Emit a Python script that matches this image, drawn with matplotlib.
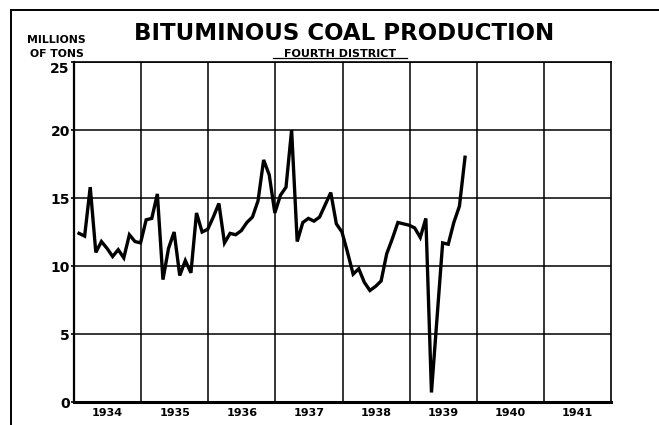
import matplotlib
matplotlib.use('Agg')
import matplotlib.pyplot as plt
from matplotlib.lines import Line2D

# monthly output, millions of tons (Jan 1934 - Oct 1939)
prod_1934 = [12.4, 12.2, 15.8, 11.0, 11.8, 11.3, 10.7, 11.2, 10.6, 12.3, 11.8, 11.7]
prod_1935 = [13.4, 13.5, 15.3, 9.0, 11.3, 12.5, 9.3, 10.4, 9.5, 13.9, 12.5, 12.7]
prod_1936 = [13.6, 14.6, 11.7, 12.4, 12.3, 12.6, 13.2, 13.6, 14.8, 17.8, 16.7, 13.9]
prod_1937 = [15.2, 15.8, 20.0, 11.8, 13.2, 13.5, 13.3, 13.6, 14.5, 15.4, 13.1, 12.5]
prod_1938 = [11.0, 9.4, 9.8, 8.8, 8.2, 8.5, 8.9, 10.9, 12.0, 13.2, 13.1, 13.0]
prod_1939 = [12.8, 12.1, 13.5, 0.7, 6.2, 11.7, 11.6, 13.2, 14.4, 18.0]

years = [1934, 1935, 1936, 1937, 1938, 1939, 1940, 1941]
year_labels = ['1934', '1935', '1936', '1937', '1938', '1939', '1940', '1941']
y_ticks = [0, 5, 10, 15, 20, 25]

series = [prod_1934, prod_1935, prod_1936, prod_1937, prod_1938, prod_1939]
x, y = [], []
for yr, vals in zip(years, series):
    for m, v in enumerate(vals):
        x.append(yr + (m + 0.9) / 12)
        y.append(v)

fig = plt.figure(figsize=(6.59, 4.25), dpi=100)
ax = fig.add_axes([0.1123, 0.0541, 0.8149, 0.80])

ax.plot(x, y, color='black', lw=2.4, solid_joinstyle='miter')

ax.set_xlim(1934, 1942)
ax.set_ylim(0, 25)
ax.set_yticks(y_ticks)
ax.set_yticklabels([str(t) for t in y_ticks], fontsize=10, fontweight='bold')
ax.get_yticklabels()[-1].set_va('top')  # "25" sits below the top edge
ax.set_xticks(years[1:])
ax.set_xticklabels([])
ax.set_xticks([yr + 0.5 for yr in years], minor=True)
ax.set_xticklabels(year_labels, minor=True, fontsize=8, fontweight='bold')
ax.tick_params(axis='x', which='both', length=0, pad=4)
ax.tick_params(axis='y', length=2, width=1.2, pad=1)
ax.grid(True, which='major', color='black', lw=1.1)

for side, lw in [('bottom', 2.2), ('left', 1.6), ('top', 1.2), ('right', 1.2)]:
    ax.spines[side].set_linewidth(lw)
    ax.spines[side].set_color('black')

fig.text(0.5228, 0.9059, 'BITUMINOUS COAL PRODUCTION', ha='center', va='baseline',
         fontsize=16.5, fontweight='bold')
fig.text(0.0857, 0.8988, 'MILLIONS', ha='center', va='baseline', fontsize=7.8, fontweight='bold')
fig.text(0.0865, 0.8659, 'OF TONS', ha='center', va='baseline', fontsize=7.8, fontweight='bold')
fig.text(0.516, 0.8659, 'FOURTH DISTRICT', ha='center', va='baseline', fontsize=8, fontweight='bold')

fig.lines.append(Line2D([273 / 659, 407 / 659], [0.8624, 0.8624], transform=fig.transFigure,
                        color='black', lw=0.9))
# page border
fig.lines.append(Line2D([0.0167, 1.0], [0.9765, 0.9765], transform=fig.transFigure, color='black', lw=1.4))
fig.lines.append(Line2D([0.0167, 0.0167], [0.0, 0.9765], transform=fig.transFigure, color='black', lw=1.4))

fig.savefig('out.png', dpi=100)
